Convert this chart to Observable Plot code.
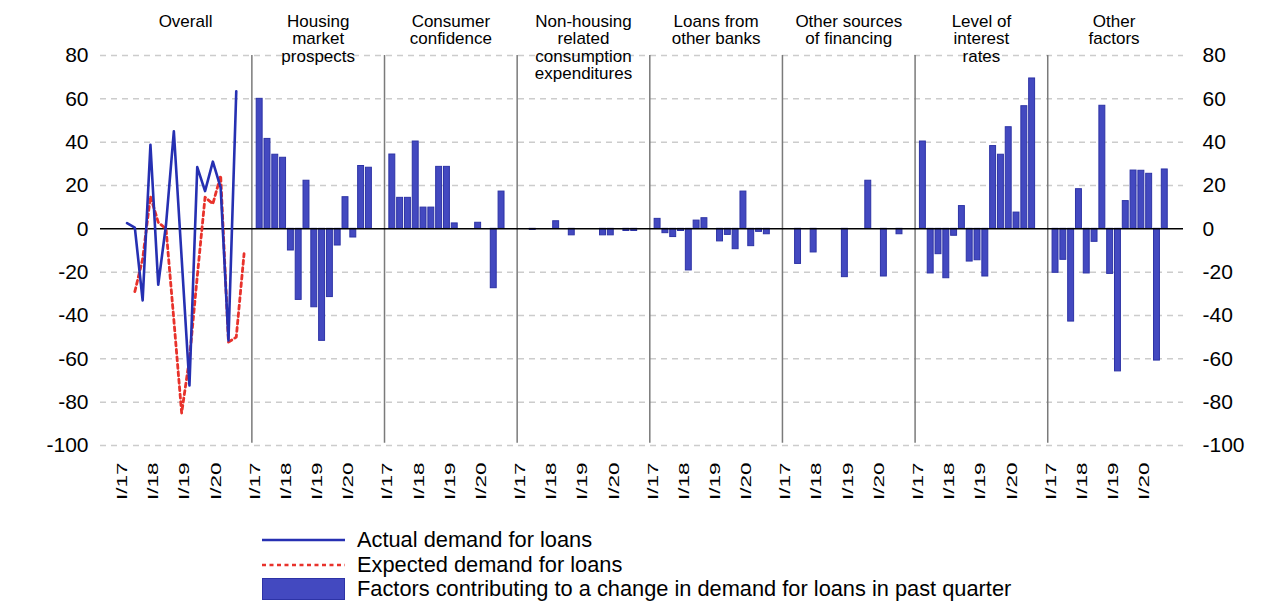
<!DOCTYPE html>
<html><head><meta charset="utf-8">
<script src="https://cdn.jsdelivr.net/npm/d3@7"></script>
<script src="https://cdn.jsdelivr.net/npm/@observablehq/plot@0.6"></script>
<style>
body{margin:0;background:#fff;font-family:"Liberation Sans",Arial,sans-serif;}
#legend{margin-left:262px;}
.row{display:flex;align-items:center;height:24.5px;font-size:21.8px;color:#000;white-space:nowrap;}
.sw{width:83px;margin-right:12px;display:flex;align-items:center;}
.sw svg{display:block;}
</style></head><body>
<div id="chart"></div>
<div id="legend"></div>
<script>
const quarters = ["I/17","II/17","III/17","IV/17","I/18","II/18","III/18","IV/18","I/19","II/19","III/19","IV/19","I/20","II/20","III/20","IV/20"];
const panelTitles = ["Overall","Housing\nmarket\nprospects","Consumer\nconfidence","Non-housing\nrelated\nconsumption\nexpenditures","Loans from\nother banks","Other sources\nof financing","Level of\ninterest\nrates","Other\nfactors"];
const tickLabels = ["I/17","I/18","I/19","I/20"];
const yTicks = [-100,-80,-60,-40,-20,0,20,40,60,80];

// Overall panel
const actual   = [2.6, 0.6, -33, 38.8, -25.8, 2, 45, -13.5, -72.3, 28.5, 17.4, 31, 19, -51.5, 63.5];
const expected = [null, -29, -14, 15, 3, 0, -42, -85, -60, -22, 14.6, 11.5, 24.6, -52.3, -50, -11.5];

// Factor panels (I/17 .. III/20)
const housing      = [60, 41.5, 34.2, 32.8, -10, -32.8, 22.2, -36.2, -51.7, -31.5, -7.7, 14.6, -4, 29, 28.2];
const consumer     = [34.3, 14.3, 14.3, 40.3, 9.8, 9.8, 28.6, 28.6, 2.5, 0, 0, 2.8, 0, -27.4, 17.2];
const nonHousing   = [0, -0.5, 0, 0, 3.5, 0, -3, 0, 0, 0, -3, -3, 0, -1, -1];
const otherBanks   = [4.6, -2, -3.8, -1, -19.2, 3.8, 4.9, 0, -5.8, -2.8, -9.4, 17.2, -8, -1.4, -2.5];
const otherSources = [0, -16.2, 0, -10.9, 0, 0, 0, -22.3, 0, 0, 22.2, 0, -22, 0, -2.5];
const interest     = [40.3, -20.6, -11.7, -22.8, -3.2, 10.5, -15.1, -14.5, -22, 38.2, 34.2, 46.9, 7.5, 56.6, 69.4];
const otherFactors = [-20.3, -14.3, -42.8, 18.3, -20.6, -6, 56.8, -20.8, -65.8, 12.8, 26.9, 26.8, 25.4, -60.8, 27.4];

const factorSeries = [housing, consumer, nonHousing, otherBanks, otherSources, interest, otherFactors];

const SLOTS = 17;
const pos = (panel, qi) => panel * SLOTS + qi + 1;

const bars = [];
factorSeries.forEach((s, k) => s.forEach((v, qi) => {
  if (v !== 0 && v != null) bars.push({panel: k + 1, qi, value: v});
}));
const actualData = actual.map((v, qi) => ({qi, value: v}));
const expectedData = expected.map((v, qi) => ({qi, value: v}));
const ticks = [];
panelTitles.forEach((t, p) => tickLabels.forEach(l => ticks.push({p, qi: quarters.indexOf(l), label: l})));
const titles = panelTitles.map((t, p) => ({p, t}));
const dividers = d3.range(1, panelTitles.length);

const BLUE_LINE = "#2630b2";
const BAR_FILL = "#4349c0";
const BAR_STROKE = "#2d33a6";
const RED = "#e8322b";
const HW = 0.38;
const DASH = "4,3.5";

const chart = Plot.plot({
  width: 1264,
  height: 528,
  marginTop: 55,
  marginBottom: 83,
  marginLeft: 100,
  marginRight: 81,
  style: {fontFamily: "'Liberation Sans', Arial, sans-serif", background: "#fff"},
  x: {domain: [-2.4, 136.4], axis: null},
  y: {domain: [-100, 80], ticks: yTicks},
  marks: [
    Plot.ruleY(yTicks.filter(d => d !== 0), {stroke: "#cccccc", strokeWidth: 1.5, strokeDasharray: "6,5"}),
    Plot.ruleX(dividers, {x: d => d * SLOTS, y1: 80, y2: -99, stroke: "#7a7a7a", strokeWidth: 1.5}),
    Plot.rectY(bars, {x1: d => pos(d.panel, d.qi) - HW, x2: d => pos(d.panel, d.qi) + HW, y1: 0, y2: "value", fill: BAR_FILL, stroke: BAR_STROKE, strokeWidth: 1}),
    Plot.ruleY([0], {stroke: "#000", strokeWidth: 1.5}),
    Plot.line(expectedData, {x: d => pos(0, d.qi), y: "value", stroke: RED, strokeWidth: 2.8, strokeDasharray: DASH}),
    Plot.line(actualData, {x: d => pos(0, d.qi), y: "value", stroke: BLUE_LINE, strokeWidth: 2.6}),
    Plot.axisY({anchor: "left", ticks: yTicks, tickSize: 0, tickPadding: 12, fontSize: 21, tickFormat: d => String(d), label: null}),
    Plot.axisY({anchor: "right", ticks: yTicks, tickSize: 0, tickPadding: 19, fontSize: 21, tickFormat: d => String(d), label: null}),
    Plot.text(titles, {x: d => d.p * SLOTS + SLOTS / 2, text: "t", frameAnchor: "top", lineAnchor: "top", dy: -41, fontSize: 17, lineHeight: 1.03, fill: "#000"}),
    Plot.text(ticks, {x: d => pos(d.p, d.qi), text: "label", rotate: -90, textAnchor: "end", frameAnchor: "bottom", dy: 17, fontSize: 15, fill: "#000"})
  ]
});
document.getElementById("chart").appendChild(chart);
// the reference's rotated quarter labels are elongated along their reading direction
d3.select(chart).selectAll("text").filter(function(){ return /^I\/\d\d$/.test(this.textContent); })
  .attr("transform", function(){ return (this.getAttribute("transform") || "") + " scale(1.5,1)"; });

const legendItems = [
  {label: "Actual demand for loans", kind: "line"},
  {label: "Expected demand for loans", kind: "dash"},
  {label: "Factors contributing to a change in demand for loans in past quarter", kind: "bar"}
];
const lg = document.getElementById("legend");
legendItems.forEach(it => {
  const row = document.createElement("div"); row.className = "row";
  const sw = document.createElement("div"); sw.className = "sw";
  let svg;
  if (it.kind === "bar") {
    svg = `<svg width="83" height="22"><rect x="0.5" y="0.5" width="82" height="21" fill="${BAR_FILL}" stroke="${BAR_STROKE}"/></svg>`;
  } else {
    svg = `<svg width="83" height="4"><line x1="0" x2="83" y1="2" y2="2" stroke="${it.kind === "line" ? BLUE_LINE : RED}" stroke-width="2.6" ${it.kind === "dash" ? `stroke-dasharray="${DASH}"` : ""}/></svg>`;
  }
  sw.innerHTML = svg;
  const tx = document.createElement("span"); tx.textContent = it.label;
  row.appendChild(sw); row.appendChild(tx); lg.appendChild(row);
});
</script>
</body></html>
